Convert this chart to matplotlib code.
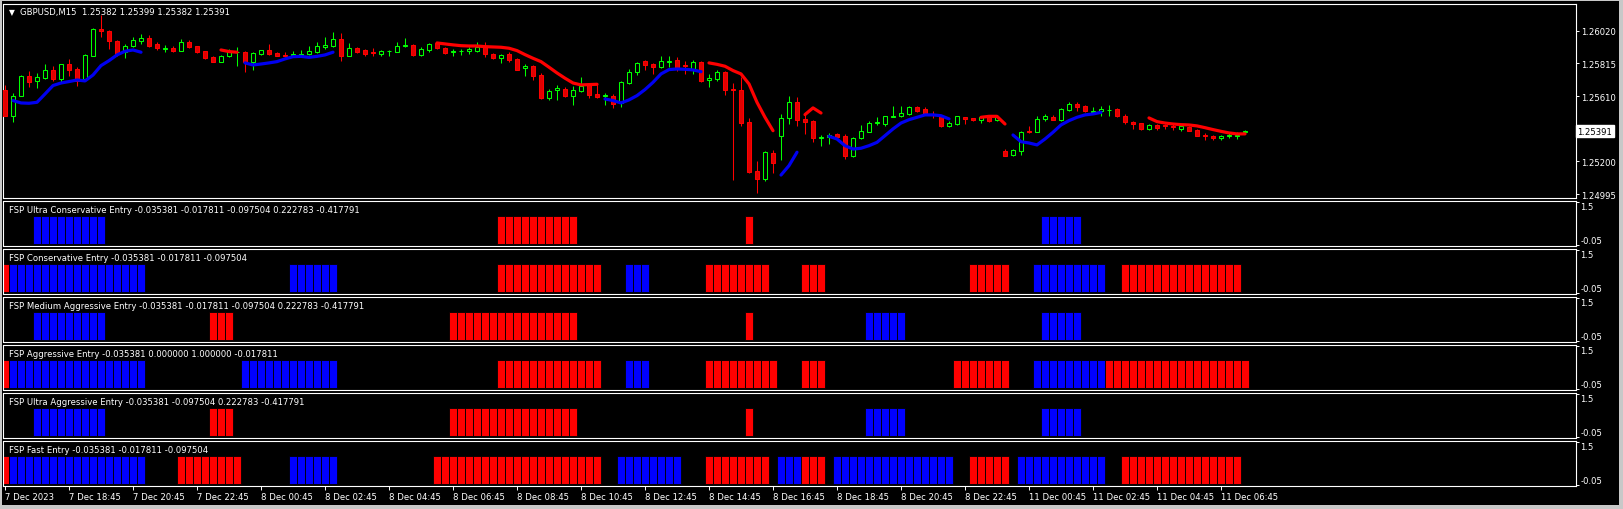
import numpy as np
import matplotlib
matplotlib.use("Agg")
import matplotlib.pyplot as plt
from matplotlib.patches import Rectangle
import matplotlib.transforms as mtransforms

plt.rcParams['font.family'] = ['DejaVu Sans']

W, H = 1623, 510
FS = 6.1

header_text = "GBPUSD,M15  1.25382 1.25399 1.25382 1.25391"

opens = [1.25651, 1.25483, 1.25613, 1.25734, 1.25707, 1.25724, 1.25774, 1.25717, 1.25811, 1.25780,
         1.25717, 1.25864, 1.26031, 1.26020, 1.25958, 1.25885, 1.25926, 1.25958, 1.25974, 1.25937,
         1.25905, 1.25912, 1.25895, 1.25947, 1.25922, 1.25891, 1.25853, 1.25826, 1.25864, 1.25885,
         1.25885, 1.25822, 1.25874, 1.25899, 1.25880, 1.25868, 1.25868, 1.25868, 1.25874, 1.25889,
         1.25916, 1.25926, 1.25968, 1.25864, 1.25912, 1.25901, 1.25885, 1.25874, 1.25891, 1.25889,
         1.25922, 1.25931, 1.25868, 1.25901, 1.25941, 1.25910, 1.25889, 1.25891, 1.25891, 1.25891,
         1.25922, 1.25874, 1.25849, 1.25874, 1.25843, 1.25786, 1.25801, 1.25742, 1.25596, 1.25651,
         1.25655, 1.25613, 1.25644, 1.25682, 1.25623, 1.25609, 1.25613, 1.25567, 1.25692, 1.25759,
         1.25828, 1.25811, 1.25795, 1.25826, 1.25836, 1.25805, 1.25780, 1.25826, 1.25711, 1.25717,
         1.25763, 1.25655, 1.25651, 1.25446, 1.25143, 1.25090, 1.25253, 1.25358, 1.25473, 1.25571,
         1.25467, 1.25452, 1.25345, 1.25354, 1.25373, 1.25362, 1.25232, 1.25345, 1.25387, 1.25441,
         1.25435, 1.25477, 1.25483, 1.25498, 1.25540, 1.25529, 1.25498, 1.25487, 1.25425, 1.25435,
         1.25477, 1.25471, 1.25462, 1.25477, 1.25462, 1.25268, 1.25241, 1.25268, 1.25393, 1.25387,
         1.25467, 1.25477, 1.25462, 1.25523, 1.25561, 1.25546, 1.25513, 1.25519, 1.25521, 1.25529,
         1.25487, 1.25446, 1.25439, 1.25404, 1.25429, 1.25429, 1.25425, 1.25404, 1.25419, 1.25398,
         1.25366, 1.25362, 1.25345, 1.25362, 1.25362, 1.25382]
highs = [1.25680, 1.25627, 1.25742, 1.25770, 1.25755, 1.25811, 1.25801, 1.25813, 1.25843, 1.25791,
         1.25874, 1.26035, 1.26119, 1.26027, 1.25964, 1.25937, 1.25979, 1.26000, 1.25993, 1.25947,
         1.25931, 1.25922, 1.25968, 1.25964, 1.25926, 1.25895, 1.25859, 1.25868, 1.25905, 1.25916,
         1.25895, 1.25889, 1.25901, 1.25937, 1.25885, 1.25889, 1.25895, 1.25901, 1.25926, 1.25951,
         1.25979, 1.26010, 1.26004, 1.25943, 1.25920, 1.25905, 1.25910, 1.25901, 1.25901, 1.25951,
         1.25972, 1.25937, 1.25916, 1.25943, 1.25951, 1.25916, 1.25905, 1.25905, 1.25916, 1.25951,
         1.25947, 1.25878, 1.25874, 1.25889, 1.25847, 1.25811, 1.25805, 1.25755, 1.25655, 1.25680,
         1.25665, 1.25671, 1.25728, 1.25692, 1.25686, 1.25630, 1.25623, 1.25707, 1.25780, 1.25826,
         1.25839, 1.25818, 1.25864, 1.25859, 1.25853, 1.25832, 1.25839, 1.25832, 1.25749, 1.25776,
         1.25770, 1.25692, 1.25728, 1.25471, 1.25205, 1.25268, 1.25274, 1.25498, 1.25613, 1.25602,
         1.25498, 1.25462, 1.25366, 1.25379, 1.25379, 1.25373, 1.25352, 1.25429, 1.25456, 1.25477,
         1.25487, 1.25546, 1.25550, 1.25546, 1.25550, 1.25540, 1.25519, 1.25492, 1.25456, 1.25487,
         1.25481, 1.25475, 1.25483, 1.25487, 1.25487, 1.25278, 1.25278, 1.25393, 1.25425, 1.25483,
         1.25498, 1.25492, 1.25533, 1.25575, 1.25571, 1.25554, 1.25540, 1.25546, 1.25554, 1.25538,
         1.25498, 1.25456, 1.25441, 1.25433, 1.25435, 1.25435, 1.25435, 1.25429, 1.25425, 1.25404,
         1.25379, 1.25366, 1.25366, 1.25377, 1.25383, 1.25399]
lows = [1.25483, 1.25446, 1.25610, 1.25665, 1.25659, 1.25717, 1.25707, 1.25701, 1.25738, 1.25676,
        1.25707, 1.25860, 1.25979, 1.25905, 1.25864, 1.25849, 1.25916, 1.25937, 1.25916, 1.25901,
        1.25889, 1.25885, 1.25891, 1.25910, 1.25880, 1.25843, 1.25822, 1.25822, 1.25853, 1.25801,
        1.25759, 1.25776, 1.25868, 1.25868, 1.25859, 1.25853, 1.25864, 1.25864, 1.25868, 1.25880,
        1.25905, 1.25920, 1.25828, 1.25859, 1.25878, 1.25859, 1.25859, 1.25864, 1.25859, 1.25885,
        1.25916, 1.25859, 1.25864, 1.25889, 1.25905, 1.25874, 1.25864, 1.25868, 1.25874, 1.25885,
        1.25853, 1.25843, 1.25818, 1.25826, 1.25772, 1.25738, 1.25713, 1.25592, 1.25588, 1.25588,
        1.25602, 1.25554, 1.25634, 1.25598, 1.25598, 1.25554, 1.25533, 1.25540, 1.25686, 1.25742,
        1.25776, 1.25749, 1.25784, 1.25795, 1.25770, 1.25749, 1.25749, 1.25701, 1.25665, 1.25707,
        1.25619, 1.25086, 1.25421, 1.25128, 1.25003, 1.25080, 1.25128, 1.25212, 1.25435, 1.25421,
        1.25373, 1.25324, 1.25299, 1.25310, 1.25341, 1.25216, 1.25226, 1.25341, 1.25383, 1.25429,
        1.25421, 1.25477, 1.25477, 1.25492, 1.25513, 1.25492, 1.25471, 1.25414, 1.25414, 1.25429,
        1.25435, 1.25454, 1.25441, 1.25450, 1.25456, 1.25232, 1.25237, 1.25241, 1.25379, 1.25383,
        1.25456, 1.25458, 1.25456, 1.25519, 1.25519, 1.25513, 1.25508, 1.25483, 1.25487, 1.25477,
        1.25435, 1.25404, 1.25400, 1.25400, 1.25400, 1.25404, 1.25400, 1.25393, 1.25389, 1.25358,
        1.25337, 1.25337, 1.25337, 1.25345, 1.25341, 1.25382]
closes = [1.25487, 1.25613, 1.25734, 1.25701, 1.25728, 1.25774, 1.25717, 1.25811, 1.25774, 1.25707,
          1.25868, 1.26031, 1.26020, 1.25958, 1.25874, 1.25926, 1.25964, 1.25972, 1.25926, 1.25910,
          1.25912, 1.25895, 1.25947, 1.25920, 1.25885, 1.25849, 1.25826, 1.25859, 1.25895, 1.25889,
          1.25826, 1.25878, 1.25899, 1.25874, 1.25864, 1.25859, 1.25874, 1.25874, 1.25895, 1.25926,
          1.25931, 1.25968, 1.25864, 1.25912, 1.25889, 1.25874, 1.25878, 1.25895, 1.25895, 1.25922,
          1.25931, 1.25868, 1.25905, 1.25937, 1.25910, 1.25880, 1.25895, 1.25895, 1.25905, 1.25916,
          1.25874, 1.25849, 1.25870, 1.25836, 1.25776, 1.25801, 1.25738, 1.25596, 1.25644, 1.25659,
          1.25613, 1.25651, 1.25671, 1.25617, 1.25607, 1.25617, 1.25561, 1.25696, 1.25763, 1.25818,
          1.25807, 1.25791, 1.25832, 1.25832, 1.25784, 1.25799, 1.25826, 1.25707, 1.25722, 1.25763,
          1.25651, 1.25646, 1.25441, 1.25136, 1.25090, 1.25258, 1.25191, 1.25471, 1.25571, 1.25462,
          1.25446, 1.25345, 1.25356, 1.25366, 1.25352, 1.25232, 1.25345, 1.25389, 1.25441, 1.25446,
          1.25483, 1.25483, 1.25502, 1.25540, 1.25519, 1.25498, 1.25492, 1.25425, 1.25441, 1.25483,
          1.25467, 1.25458, 1.25477, 1.25456, 1.25477, 1.25237, 1.25274, 1.25387, 1.25383, 1.25467,
          1.25483, 1.25462, 1.25529, 1.25561, 1.25544, 1.25519, 1.25519, 1.25529, 1.25525, 1.25487,
          1.25446, 1.25437, 1.25404, 1.25429, 1.25408, 1.25421, 1.25414, 1.25425, 1.25393, 1.25362,
          1.25358, 1.25345, 1.25362, 1.25366, 1.25366, 1.25391]

# moving-average line pieces: (first bar index, values)
blue_segments = [
    (1, [1.25582, 1.25567, 1.25565, 1.25571, 1.25623, 1.25676, 1.25692, 1.25701, 1.25711,
         1.25705, 1.25742, 1.25801, 1.25832, 1.25868, 1.25891, 1.25899, 1.25885]),
    (30, [1.25818, 1.25805, 1.25811, 1.25818, 1.25826, 1.25843, 1.25857, 1.25859, 1.25853,
          1.25859, 1.25868, 1.25885]),
    (75, [1.25592, 1.25582, 1.25567, 1.25586, 1.25613, 1.25651, 1.25696, 1.25749, 1.25776,
          1.25780, 1.25778, 1.25774, 1.25763]),
    (97, [1.25115, 1.25174, 1.25258]),
    (103, [1.25358, 1.25341, 1.25299, 1.25278, 1.25283, 1.25299, 1.25320, 1.25362, 1.25404,
           1.25441, 1.25462, 1.25477, 1.25492, 1.25492, 1.25487, 1.25467]),
    (126, [1.25366, 1.25324, 1.25316, 1.25304, 1.25341, 1.25383, 1.25429, 1.25456, 1.25477,
           1.25492, 1.25498, 1.25508]),
]
red_segments = [
    (27, [1.25899, 1.25889, 1.25885]),
    (54, [1.25943, 1.25937, 1.25931, 1.25926, 1.25924, 1.25924, 1.25920, 1.25918, 1.25916,
          1.25910, 1.25895, 1.25870, 1.25847, 1.25826, 1.25791, 1.25755, 1.25722, 1.25692,
          1.25680, 1.25682, 1.25684]),
    (88, [1.25818, 1.25809, 1.25797, 1.25770, 1.25749, 1.25686, 1.25571, 1.25477, 1.25393]),
    (100, [1.25494, 1.25536, 1.25504]),
    (122, [1.25477, 1.25483, 1.25483, 1.25435]),
    (143, [1.25473, 1.25450, 1.25441, 1.25435, 1.25431, 1.25429, 1.25423, 1.25412, 1.25400,
           1.25389, 1.25379, 1.25373, 1.25373]),
]

price_ticks = [1.26020, 1.25815, 1.25610, 1.25200, 1.24995]
price_tick_labels = ["1.26020", "1.25815", "1.25610", "1.25200", "1.24995"]
last_price = 1.25391

time_tick_idx = [0, 8, 16, 24, 32, 40, 48, 56, 64, 72, 80, 88, 96, 104, 112, 120, 128, 136, 144, 152]
time_labels = ["7 Dec 2023", "7 Dec 18:45", "7 Dec 20:45", "7 Dec 22:45", "8 Dec 00:45",
               "8 Dec 02:45", "8 Dec 04:45", "8 Dec 06:45", "8 Dec 08:45", "8 Dec 10:45",
               "8 Dec 12:45", "8 Dec 14:45", "8 Dec 16:45", "8 Dec 18:45", "8 Dec 20:45",
               "8 Dec 22:45", "11 Dec 00:45", "11 Dec 02:45", "11 Dec 04:45", "11 Dec 06:45"]

panel_titles = [
    "FSP Ultra Conservative Entry -0.035381 -0.017811 -0.097504 0.222783 -0.417791",
    "FSP Conservative Entry -0.035381 -0.017811 -0.097504",
    "FSP Medium Aggressive Entry -0.035381 -0.017811 -0.097504 0.222783 -0.417791",
    "FSP Aggressive Entry -0.035381 0.000000 1.000000 -0.017811",
    "FSP Ultra Aggressive Entry -0.035381 -0.097504 0.222783 -0.417791",
    "FSP Fast Entry -0.035381 -0.017811 -0.097504",
]
# signal runs: (first bar, last bar, 'B' buy / 'R' sell)
ultra_conservative = [(4, 12, 'B'), (62, 71, 'R'), (93, 93, 'R'), (130, 134, 'B')]
conservative = [(0, 0, 'R'), (1, 17, 'B'), (36, 41, 'B'), (62, 74, 'R'), (78, 80, 'B'),
                (88, 95, 'R'), (100, 102, 'R'), (121, 125, 'R'), (129, 137, 'B'), (140, 154, 'R')]
medium_aggressive = [(4, 12, 'B'), (26, 28, 'R'), (56, 71, 'R'), (93, 93, 'R'),
                     (108, 112, 'B'), (130, 134, 'B')]
aggressive = [(0, 0, 'R'), (1, 17, 'B'), (30, 41, 'B'), (62, 74, 'R'), (78, 80, 'B'),
              (88, 96, 'R'), (100, 102, 'R'), (119, 125, 'R'), (129, 137, 'B'), (138, 155, 'R')]
ultra_aggressive = [(4, 12, 'B'), (26, 28, 'R'), (56, 71, 'R'), (93, 93, 'R'),
                    (108, 112, 'B'), (130, 134, 'B')]
fast = [(0, 0, 'R'), (1, 17, 'B'), (22, 29, 'R'), (36, 41, 'B'), (54, 74, 'R'), (77, 84, 'B'),
        (88, 95, 'R'), (97, 99, 'B'), (100, 102, 'R'), (104, 118, 'B'), (121, 125, 'R'),
        (127, 137, 'B'), (140, 154, 'R')]
panel_runs = [ultra_conservative, conservative, medium_aggressive, aggressive, ultra_aggressive, fast]

# ---------------------------------------------------------------
n = len(opens)
x = np.arange(n)
BULL = '#00FF00'
BEAR = '#FF0000'
SIG = {'B': '#0000FF', 'R': '#FF0000'}

fig = plt.figure(figsize=(W / 100, H / 100), dpi=100, facecolor='black')

def px_rect(l, t, r, b):
    return [l / W, 1 - b / H, (r - l) / W, (b - t) / H]

# window chrome
gray = '#C8C8C8'
for (l, t, r, b) in [(0, 0, W, 2), (0, 0, 2, H), (1619, 0, W, H), (0, 506, W, H)]:
    fig.add_artist(Rectangle((l / W, 1 - b / H), (r - l) / W, (b - t) / H,
                             transform=fig.transFigure, facecolor=gray, edgecolor='none'))

XL, XR = 3.5, 1575.7
xlim = ((XL - 5) / 8, (XR - 5) / 8)

def style_axes(ax):
    ax.set_facecolor('black')
    for s in ax.spines.values():
        s.set_color('white')
        s.set_linewidth(0.8)
    ax.set_xlim(*xlim)
    ax.tick_params(colors='white', labelcolor='white', labelsize=FS, width=0.7)

# main price chart
ax = fig.add_axes(px_rect(XL, 4.7, XR, 199))
style_axes(ax)
ax.set_ylim(1.249711, 1.261891)
o = np.array(opens); h = np.array(highs); lo = np.array(lows); c = np.array(closes)
bull = c >= o
cols = np.where(bull, BULL, BEAR)
ax.vlines(x, lo, h, colors=cols, linewidth=0.75, zorder=2)
body_bot = np.minimum(o, c)
body_h = np.maximum(np.abs(c - o), 0.000005)
ax.bar(x[bull], body_h[bull], bottom=body_bot[bull], width=0.55,
       facecolor='black', edgecolor=BULL, linewidth=0.75, zorder=3)
ax.bar(x[~bull], body_h[~bull], bottom=body_bot[~bull], width=0.55,
       facecolor='#E00000', edgecolor=BEAR, linewidth=0.75, zorder=3)

for segs, col in [(blue_segments, '#0000F0'), (red_segments, '#FF0000')]:
    for start, vals in segs:
        xs = np.arange(start, start + len(vals))
        ax.plot(xs, vals, color=col, linewidth=2.3, solid_capstyle='round',
                solid_joinstyle='round', zorder=4)

ax.yaxis.tick_right()
ax.set_yticks(price_ticks)
ax.set_yticklabels(price_tick_labels)
ax.tick_params(axis='y', direction='out', length=2.5, pad=1.5)
ax.set_xticks([])

tr = mtransforms.blended_transform_factory(ax.transAxes, ax.transData)
ax.text(1.0012, last_price, f"{last_price:.5f}", transform=tr, ha='left', va='center',
        fontsize=FS, color='black', clip_on=False, zorder=10,
        bbox=dict(boxstyle='square,pad=0.22', facecolor='white', edgecolor='white'))

fig.text(12 / W, 1 - 12.5 / H, '\u25BC', color='white', fontsize=5.5, ha='center', va='center')
fig.text(20 / W, 1 - 12.7 / H, header_text, color='white', fontsize=FS, ha='left', va='center')

# indicator panels
for k in range(6):
    top = 201.7 + 48 * k
    bot = 246.7 + 48 * k
    pax = fig.add_axes(px_rect(XL, top, XR, bot))
    style_axes(pax)
    pax.set_ylim(-0.06, 1.53)
    idx, colors = [], []
    for a, b, s in panel_runs[k]:
        for i in range(a, b + 1):
            idx.append(i)
            colors.append(SIG[s])
    pax.bar(idx, [1.0] * len(idx), bottom=0, width=1.0, color=colors,
            edgecolor='black', linewidth=0.6, zorder=2)
    pax.yaxis.tick_right()
    pax.set_yticks([1.5, -0.05])
    labs = pax.set_yticklabels(["1.5", "-0.05"])
    labs[0].set_verticalalignment('top')
    labs[1].set_verticalalignment('bottom')
    pax.tick_params(axis='y', direction='out', length=2.0, pad=1.5)
    fig.text(9.3 / W, 1 - (top + 9.2) / H, panel_titles[k], color='white', fontsize=FS,
             ha='left', va='center')
    if k == 5:
        pax.set_xticks(time_tick_idx)
        xl = pax.set_xticklabels(time_labels)
        for t in xl:
            t.set_horizontalalignment('left')
        pax.tick_params(axis='x', direction='out', length=3, pad=1.2)
    else:
        pax.set_xticks([])

fig.savefig('out.png', dpi=100, facecolor='black')
